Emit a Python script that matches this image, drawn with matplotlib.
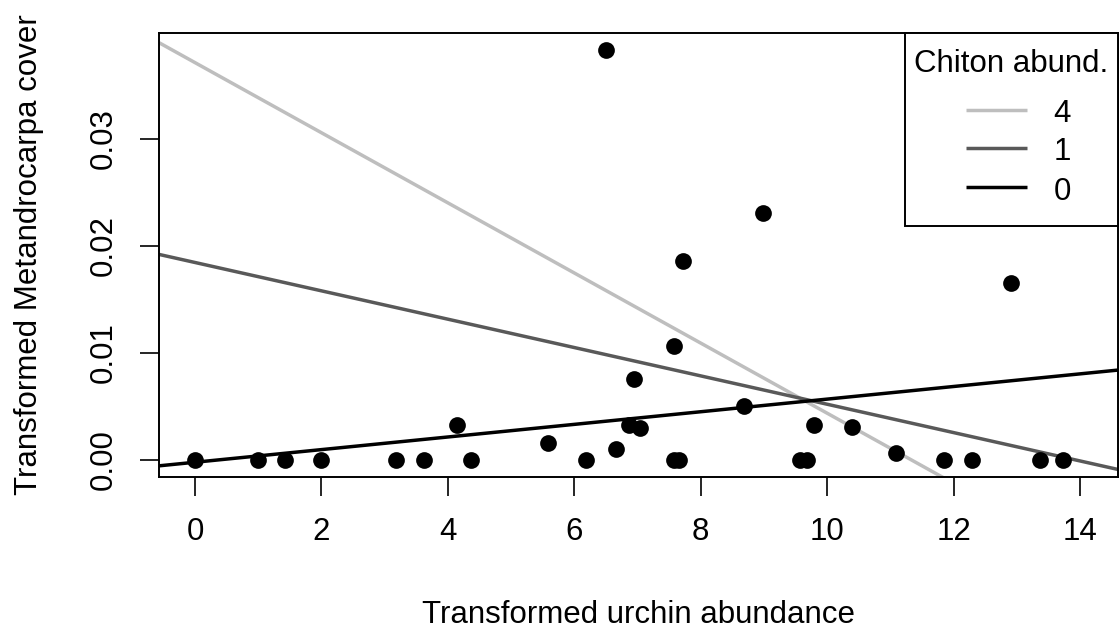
import matplotlib
matplotlib.use("Agg")
import matplotlib.pyplot as plt
from matplotlib.patches import Rectangle
from matplotlib.lines import Line2D
import numpy as np

plt.rcParams['font.family'] = ['Liberation Sans', 'DejaVu Sans']

# Data
urchin = [0.0, 1.0, 1.42, 2.0, 3.18, 3.62, 4.15, 4.37, 5.59, 6.19, 6.50, 6.66,
          6.87, 6.95, 7.04, 7.58, 7.58, 7.66, 7.72, 8.69, 8.99, 9.57, 9.68,
          9.79, 10.40, 11.09, 11.84, 12.29, 12.91, 13.37, 13.73]
cover = [0.0, 0.0, 0.0, 0.0, 0.0, 0.0, 0.0033, 0.0, 0.0016, 0.0, 0.0383, 0.0010,
         0.0033, 0.0076, 0.0030, 0.0106, 0.0, 0.0, 0.0186, 0.0050, 0.0231, 0.0,
         0.0, 0.0033, 0.0031, 0.0006, 0.0, 0.0, 0.0165, 0.0, 0.0]

chiton_levels = ["4", "1", "0"]
intercepts = [0.03713, 0.01845, -0.00022]
slopes = [-0.003277, -0.001325, 0.00059]
line_colors = ["#BEBEBE", "#595959", "#000000"]

xticks = [0, 2, 4, 6, 8, 10, 12, 14]
yticks = [0.00, 0.01, 0.02, 0.03]
ytick_labels = ["0.00", "0.01", "0.02", "0.03"]

W, H = 1120, 632
FS = 22.5
LW = 2.5


def px(x, y):
    return x / W, 1 - y / H


fig = plt.figure(figsize=(W / 100, H / 100), dpi=100)
ax = fig.add_axes([159 / W, 1 - 477 / H, (1118 - 159) / W, (477 - 33) / H])

xlim = (-0.57, 14.6)
ylim = (-0.0016, 0.0399)
ax.set_xlim(*xlim)
ax.set_ylim(*ylim)

ax.scatter(urchin, cover, s=145, color="black", zorder=3, linewidths=0)

xx = np.array(xlim)
for lab, b0, b1, c in zip(chiton_levels, intercepts, slopes, line_colors):
    ax.plot(xx, b0 + b1 * xx, color=c, lw=LW, label=lab, zorder=2,
            solid_capstyle='butt')

ax.set_xticks(xticks)
ax.set_yticks(yticks)
ax.set_yticklabels(ytick_labels, rotation=90, va='center')
ax.tick_params(axis='both', direction='out', length=13.5, width=1.2,
               labelsize=FS)
ax.tick_params(axis='x', pad=15)
ax.tick_params(axis='y', pad=15.5)
for sp in ax.spines.values():
    sp.set_linewidth(1.4)

# axis titles
fig.text(*px(638.5, 623), "Transformed urchin abundance", fontsize=FS,
         ha='center', va='baseline')
fig.text(*px(37, 255), "Transformed Metandrocarpa cover", fontsize=FS,
         ha='center', va='baseline', rotation=90, rotation_mode='anchor')

# legend box
x0, y0, x1, y1 = 905, 33, 1118, 226
fig.add_artist(Rectangle(px(x0, y1), (x1 - x0) / W, (y1 - y0) / H,
                         transform=fig.transFigure, facecolor='white',
                         edgecolor='black', lw=1.4, zorder=5))
fig.text(*px((x0 + x1) / 2, 72), "Chiton abund.", fontsize=FS,
         ha='center', va='baseline', zorder=6)
entry_y = [110, 148, 187]
for lab, c, ly in zip(chiton_levels, line_colors, entry_y):
    fig.add_artist(Line2D([966 / W, 1027 / W], [1 - ly / H, 1 - ly / H],
                          transform=fig.transFigure, color=c, lw=LW,
                          zorder=6, solid_capstyle='butt'))
    fig.text(*px(1062, ly + 12.5), lab, fontsize=FS, ha='center',
             va='baseline', zorder=6)

fig.savefig("out.png", dpi=100)
